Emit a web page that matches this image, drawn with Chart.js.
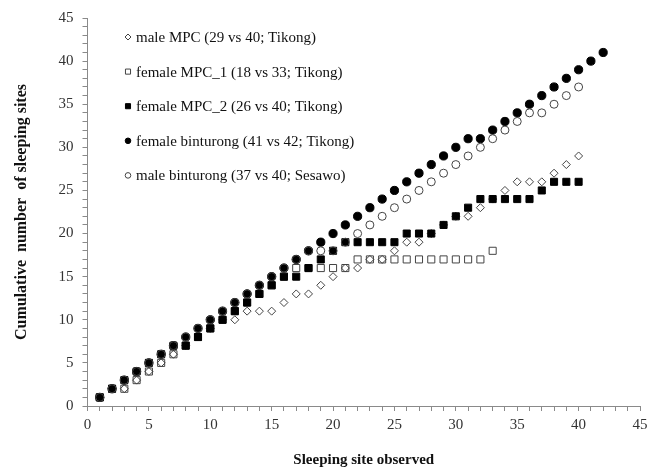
<!DOCTYPE html>
<html>
<head>
<meta charset="utf-8">
<script src="https://cdn.jsdelivr.net/npm/chart.js@4/dist/chart.umd.min.js"></script>
<style>
  html, body { margin: 0; padding: 0; background: #fff; }
  #wrap { width: 647px; height: 471px; }
</style>
</head>
<body>
<div id="wrap"><canvas id="SitesChart" width="647" height="471"></canvas></div>
<script>
// sleeping site observed (x) for each animal
const sites40 = [1, 2, 3, 4, 5, 6, 7, 8, 9, 10, 11, 12, 13, 14, 15, 16, 17, 18, 19, 20,
                 21, 22, 23, 24, 25, 26, 27, 28, 29, 30, 31, 32, 33, 34, 35, 36, 37, 38, 39, 40];
const sites33 = [1, 2, 3, 4, 5, 6, 7, 8, 9, 10, 11, 12, 13, 14, 15, 16, 17, 18, 19, 20,
                 21, 22, 23, 24, 25, 26, 27, 28, 29, 30, 31, 32, 33];
const sites42 = [1, 2, 3, 4, 5, 6, 7, 8, 9, 10, 11, 12, 13, 14, 15, 16, 17, 18, 19, 20,
                 21, 22, 23, 24, 25, 26, 27, 28, 29, 30, 31, 32, 33, 34, 35, 36, 37, 38, 39, 40, 41, 42];

// cumulative number of sleeping sites
const maleMPC = [1, 2, 2, 3, 4, 5, 6, 7, 8, 9, 10, 10, 11, 11, 11, 12, 13, 13, 14, 15,
                 16, 16, 17, 17, 18, 19, 19, 20, 21, 22, 22, 23, 24, 25, 26, 26, 26, 27, 28, 29];
const femaleMPC1 = [1, 2, 2, 3, 4, 5, 6, 7, 8, 9, 10, 11, 12, 13, 14, 15, 16, 16, 16, 16,
                    16, 17, 17, 17, 17, 17, 17, 17, 17, 17, 17, 17, 18];
const femaleMPC2 = [1, 2, 3, 4, 5, 6, 7, 7, 8, 9, 10, 11, 12, 13, 14, 15, 15, 16, 17, 18,
                    19, 19, 19, 19, 19, 20, 20, 20, 21, 22, 23, 24, 24, 24, 24, 24, 25, 26, 26, 26];
const femaleBinturong = [1, 2, 3, 4, 5, 6, 7, 8, 9, 10, 11, 12, 13, 14, 15, 16, 17, 18, 19, 20,
                         21, 22, 23, 24, 25, 26, 27, 28, 29, 30, 31, 31, 32, 33, 34, 35, 36, 37, 38, 39, 40, 41];
const maleBinturong = [1, 2, 3, 4, 5, 6, 7, 8, 9, 10, 11, 12, 13, 14, 15, 16, 17, 18, 18, 18,
                       19, 20, 21, 22, 23, 24, 25, 26, 27, 28, 29, 30, 31, 32, 33, 34, 34, 35, 36, 37];

const seriesLabels = [
    'male MPC (29 vs 40; Tikong)',
    'female MPC_1 (18 vs 33; Tikong)',
    'female MPC_2 (26 vs 40; Tikong)',
    'female binturong (41 vs 42; Tikong)',
    'male binturong (37 vs 40; Sesawo)'
];
const axisTicks = [0, 5, 10, 15, 20, 25, 30, 35, 40, 45];

const SERIF = '"Liberation Serif", "Times New Roman", serif';

function toPoints(xs, ys) {
    return xs.map((x, i) => ({x: x, y: ys[i]}));
}

// legend drawn inside the plot area, top left, like the original
const insideLegend = {
    id: 'insideLegend',
    afterDatasetsDraw(chart) {
        const ctx = chart.ctx;
        const area = chart.chartArea;
        const sizes = [3, 3.6, 3.6, 2.8, 2.8];
        ctx.save();
        ctx.font = '15px ' + SERIF;
        ctx.textBaseline = 'middle';
        chart.data.datasets.forEach((ds, i) => {
            const mx = area.left + 40.5;
            const my = area.top + 19 + i * 34.6;
            ctx.fillStyle = ds.backgroundColor;
            ctx.strokeStyle = ds.borderColor;
            ctx.lineWidth = 1;
            Chart.helpers.drawPoint(ctx, {pointStyle: ds.pointStyle, radius: sizes[i], borderWidth: 1, rotation: 0}, mx, my);
            ctx.fillStyle = '#111';
            ctx.fillText(ds.label, mx + 8, my + 1);
        });
        ctx.restore();
    }
};

function axis(titleText, titleSize, titlePad) {
    return {
        type: 'linear',
        min: 0,
        max: 45,
        border: {display: true, color: '#8a8a8a', width: 1},
        grid: {
            display: true,
            drawOnChartArea: false,
            drawTicks: true,
            tickLength: 5,
            color: '#8a8a8a'
        },
        ticks: {
            stepSize: 1,
            autoSkip: false,
            maxRotation: 0,
            minRotation: 0,
            color: '#333',
            font: {family: SERIF, size: 15},
            callback: (v) => axisTicks.includes(v) ? String(v) : ''
        },
        title: {
            display: true,
            text: titleText,
            color: '#111',
            font: {family: SERIF, size: titleSize, weight: 'bold'},
            padding: titlePad
        }
    };
}

const xAxis = axis('Sleeping site observed', 15, {top: 2, bottom: 2});
xAxis.ticks.padding = 5;
xAxis.afterFit = (scale) => {
    scale.height = 65;
    scale.paddingRight = 7;
};

const yAxis = axis('Cumulative  number  of sleeping sites', 16, {top: 12, bottom: 0});
yAxis.ticks.padding = 9;
yAxis.afterFit = (scale) => { scale.width = 87.5; };

const sites = document.getElementById('SitesChart').getContext('2d');
const sitesChart = new Chart(sites, {
    type: 'scatter',
    data: {
        datasets: [{
            label: seriesLabels[0],
            data: toPoints(sites40, maleMPC),
            order: 5,
            pointStyle: 'rectRot',
            pointRadius: 4,
            backgroundColor: 'rgba(0,0,0,0)',
            borderColor: '#444',
            borderWidth: 1
        },
        {
            label: seriesLabels[1],
            data: toPoints(sites33, femaleMPC1),
            order: 4,
            pointStyle: 'rect',
            pointRadius: 5,
            backgroundColor: 'rgba(0,0,0,0)',
            borderColor: '#444',
            borderWidth: 1
        },
        {
            label: seriesLabels[2],
            data: toPoints(sites40, femaleMPC2),
            order: 3,
            pointStyle: 'rect',
            pointRadius: 5,
            backgroundColor: '#000',
            borderColor: '#000',
            borderWidth: 1
        },
        {
            label: seriesLabels[3],
            data: toPoints(sites42, femaleBinturong),
            order: 2,
            pointStyle: 'circle',
            pointRadius: 4.1,
            backgroundColor: '#000',
            borderColor: '#000',
            borderWidth: 1
        },
        {
            label: seriesLabels[4],
            data: toPoints(sites40, maleBinturong),
            order: 1,
            pointStyle: 'circle',
            pointRadius: 4,
            backgroundColor: 'rgba(0,0,0,0)',
            borderColor: '#444',
            borderWidth: 1
        }
    ]
    },
    options: {
        responsive: false,
        animation: false,
        layout: {
            padding: {left: 0, right: 0, top: 17, bottom: 0}
        },
        plugins: {
            legend: {display: false},
            tooltip: {enabled: false}
        },
        scales: {
            x: xAxis,
            y: yAxis
        }
    },
    plugins: [insideLegend]
});
</script>
</body>
</html>
